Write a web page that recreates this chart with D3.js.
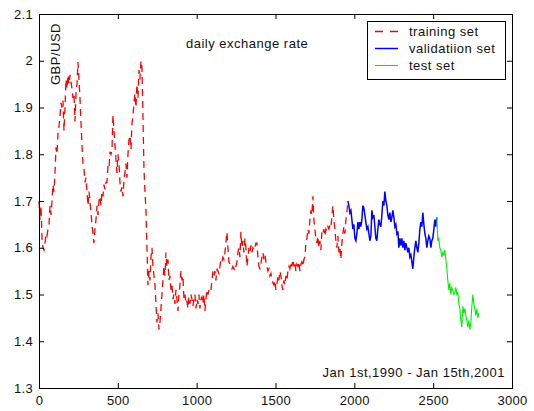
<!DOCTYPE html>
<html>
<head>
<meta charset="utf-8">
<script src="https://cdn.jsdelivr.net/npm/d3@7"></script>
<style>
  body { margin: 0; background: #fff; }
  svg text { font-family: Arial, "Liberation Sans", sans-serif; fill: #111; }
  .lbl { font-size: 13px; letter-spacing: 0.5px; }
</style>
</head>
<body>
<svg id="chart"></svg>
<script>
// GBP/USD daily rate (one reading per ~6.34 trading days)
let sampleStep = 6.34

let trainStart = 0
let trainRate = [
  1.70, 1.66, 1.69, 1.62, 1.60, 1.595, 1.61, 1.63, 1.625, 1.64, 1.65, 1.69, 1.67, 1.70, 1.735, 1.72, 1.76, 1.815, 1.80, 1.845,
  1.86, 1.88, 1.91, 1.90, 1.915, 1.85, 1.90, 1.96, 1.94, 1.97, 1.95, 1.97, 1.955, 1.94, 1.92, 1.93, 1.87, 1.93, 1.95, 1.997,
  1.96, 1.92, 1.87, 1.82, 1.78, 1.77, 1.74, 1.75, 1.72, 1.69, 1.72, 1.70, 1.675, 1.65, 1.63, 1.61, 1.64, 1.66, 1.69, 1.67,
  1.70, 1.71, 1.69, 1.72, 1.71, 1.735, 1.725, 1.74, 1.74, 1.775, 1.77, 1.805, 1.80, 1.81, 1.884, 1.85, 1.82, 1.79, 1.76, 1.80,
  1.78, 1.74, 1.72, 1.73, 1.71, 1.745, 1.76, 1.78, 1.75, 1.80, 1.83, 1.84, 1.81, 1.866, 1.88, 1.91, 1.93, 1.90, 1.95, 1.92,
  1.98, 1.96, 2.00, 1.985, 1.88, 1.77, 1.72, 1.68, 1.60, 1.52, 1.55, 1.53, 1.58, 1.60, 1.56, 1.54, 1.52, 1.48, 1.44, 1.46,
  1.425, 1.44, 1.47, 1.50, 1.53, 1.56, 1.54, 1.59, 1.56, 1.575, 1.53, 1.54, 1.51, 1.52, 1.49, 1.50, 1.48, 1.51, 1.49, 1.465,
  1.50, 1.52, 1.55, 1.53, 1.54, 1.49, 1.50, 1.48, 1.485, 1.47, 1.495, 1.48, 1.50, 1.49, 1.475, 1.49, 1.50, 1.47, 1.49, 1.48,
  1.50, 1.47, 1.49, 1.495, 1.48, 1.50, 1.465, 1.49, 1.51, 1.50, 1.51, 1.505, 1.51, 1.53, 1.55, 1.54, 1.55, 1.53, 1.555, 1.55,
  1.545, 1.56, 1.575, 1.57, 1.58, 1.575, 1.59, 1.61, 1.634, 1.60, 1.57, 1.565, 1.56, 1.555, 1.56, 1.555, 1.55, 1.56, 1.57, 1.59,
  1.60, 1.58, 1.634, 1.60, 1.615, 1.59, 1.62, 1.60, 1.56, 1.58, 1.60, 1.59, 1.605, 1.59, 1.60, 1.595, 1.60, 1.61, 1.61, 1.58,
  1.56, 1.555, 1.565, 1.58, 1.59, 1.575, 1.585, 1.57, 1.56, 1.55, 1.555, 1.54, 1.545, 1.53, 1.525, 1.52, 1.53, 1.51, 1.52, 1.54,
  1.53, 1.55, 1.54, 1.52, 1.51, 1.53, 1.52, 1.54, 1.53, 1.55, 1.56, 1.555, 1.57, 1.56, 1.575, 1.56, 1.57, 1.55, 1.565, 1.56,
  1.57, 1.55, 1.565, 1.57, 1.56, 1.575, 1.58, 1.61, 1.62, 1.64, 1.63, 1.66, 1.68, 1.67, 1.71, 1.66, 1.64, 1.62, 1.61, 1.625,
  1.60, 1.615, 1.595, 1.635, 1.63, 1.64, 1.625, 1.64, 1.635, 1.645, 1.64, 1.65, 1.645, 1.665, 1.69, 1.66, 1.64, 1.615, 1.60, 1.625,
  1.59, 1.60, 1.575, 1.61, 1.63, 1.645, 1.63, 1.66, 1.675, 1.70
]

let validStart = trainStart + (trainRate.length - 1) * sampleStep
let validRate = [
  1.70, 1.69, 1.675, 1.68, 1.66, 1.64, 1.65, 1.62, 1.615, 1.63, 1.655, 1.64, 1.655, 1.645, 1.66, 1.69, 1.685, 1.67, 1.655, 1.64,
  1.645, 1.63, 1.615, 1.625, 1.68, 1.665, 1.67, 1.645, 1.62, 1.615, 1.64, 1.66, 1.65, 1.645, 1.67, 1.70, 1.69, 1.72, 1.70, 1.69,
  1.67, 1.66, 1.675, 1.655, 1.665, 1.68, 1.665, 1.645, 1.65, 1.63, 1.635, 1.60, 1.62, 1.605, 1.62, 1.60, 1.615, 1.595, 1.61, 1.60,
  1.59, 1.60, 1.58, 1.585, 1.57, 1.555, 1.58, 1.60, 1.615, 1.60, 1.59, 1.61, 1.64, 1.655, 1.645, 1.675, 1.65, 1.63, 1.62, 1.60,
  1.615, 1.625, 1.62, 1.60, 1.615, 1.62, 1.64, 1.66, 1.645, 1.665
]

let testStart = validStart + (validRate.length - 1) * sampleStep
let testRate = [
  1.665, 1.615, 1.62, 1.60, 1.595, 1.58, 1.59, 1.585, 1.595, 1.575, 1.555, 1.53, 1.51, 1.525, 1.50, 1.515, 1.51, 1.50, 1.505, 1.515,
  1.50, 1.505, 1.48, 1.47, 1.445, 1.43, 1.475, 1.46, 1.47, 1.455, 1.445, 1.43, 1.445, 1.425, 1.44, 1.475, 1.50, 1.48, 1.47, 1.455,
  1.47, 1.45, 1.46
]

let xTicks = [0, 500, 1000, 1500, 2000, 2500, 3000]
let yTicks = [1.3, 1.4, 1.5, 1.6, 1.7, 1.8, 1.9, 2.0, 2.1]

let legendNames = ['training set', 'validatiion set', 'test set']

let width = 534
let height = 411
let padL = 39, padR = 512, padT = 14, padB = 388

let svg = d3.select('#chart')
            .attr('width', width)
            .attr('height', height)

let xScale = d3.scaleLinear().domain([0, 3000]).range([padL, padR])
let yScale = d3.scaleLinear().domain([1.3, 2.1]).range([padB, padT])

let toPoints = (start, rates) => rates.map((r, i) => [start + i * sampleStep, r])

let line = d3.line()
             .x(d => xScale(d[0]))
             .y(d => yScale(d[1]))

let series = [
  { name: legendNames[0], pts: toPoints(trainStart, trainRate), color: '#ff0000', dash: '7,5', legDash: '8,7', w: 1.3 },
  { name: legendNames[1], pts: toPoints(validStart, validRate), color: '#0000ff', dash: null, legDash: null, w: 1.5 },
  { name: legendNames[2], pts: toPoints(testStart, testRate), color: '#00ee00', dash: null, legDash: null, w: 1.1 }
]

svg.selectAll('path.series')
   .data(series)
   .enter()
   .append('path')
   .attr('class', 'series')
   .attr('d', d => line(d.pts))
   .attr('fill', 'none')
   .attr('stroke', d => d.color)
   .attr('stroke-width', d => d.w)
   .attr('stroke-dasharray', d => d.dash)

// axes, ticks pointing inward
let fmtY = d => d == 2 ? '2' : d3.format('.1f')(d)

let xAxis = d3.axisBottom(xScale).tickValues(xTicks).tickSize(-5).tickPadding(8).tickFormat(d3.format('d'))
let yAxis = d3.axisLeft(yScale).tickValues(yTicks).tickSize(-5).tickPadding(6).tickFormat(fmtY)
let xTop = d3.axisTop(xScale).tickValues(xTicks).tickSize(-5).tickFormat('')
let yRight = d3.axisRight(yScale).tickValues(yTicks).tickSize(-5).tickFormat('')

let styleAxis = g => {
  g.select('.domain').remove()
  g.selectAll('line').attr('stroke', '#000')
  g.selectAll('text').style('font-size', '13px').style('letter-spacing', '0.3px').attr('fill', '#111')
}

svg.append('g').attr('transform', 'translate(0,' + padB + ')').call(xAxis).call(styleAxis)
svg.append('g').attr('transform', 'translate(' + padL + ',0)').call(yAxis).call(styleAxis)
svg.append('g').attr('transform', 'translate(0,' + padT + ')').call(xTop).call(styleAxis)
svg.append('g').attr('transform', 'translate(' + padR + ',0)').call(yRight).call(styleAxis)

svg.append('rect')
   .attr('x', padL + 0.5).attr('y', padT + 0.5)
   .attr('width', padR - padL).attr('height', padB - padT)
   .attr('fill', 'none').attr('stroke', '#000').attr('stroke-width', 1)

// texts
svg.append('text')
   .attr('class', 'lbl')
   .attr('x', 186).attr('y', 47.5)
   .text('daily exchange rate')

svg.append('text')
   .attr('class', 'lbl')
   .attr('transform', 'translate(60,23) rotate(-90)')
   .attr('text-anchor', 'end')
   .text('GBP/USD')

svg.append('text')
   .attr('class', 'lbl')
   .attr('x', 505).attr('y', 376.5)
   .attr('text-anchor', 'end')
   .text('Jan 1st,1990 - Jan 15th,2001')

// legend
let legend = svg.append('g')
legend.append('rect')
      .attr('x', 367.5).attr('y', 21.5)
      .attr('width', 138).attr('height', 58)
      .attr('fill', '#fff').attr('stroke', '#000')

let rows = legend.selectAll('g.row')
                 .data(series)
                 .enter()
                 .append('g')
                 .attr('class', 'row')
                 .attr('transform', (d, i) => 'translate(0,' + (31.5 + i * 17) + ')')

rows.append('line')
    .attr('x1', 375).attr('x2', 398)
    .attr('stroke', d => d.color)
    .attr('stroke-width', d => d.w)
    .attr('stroke-dasharray', d => d.legDash)

rows.append('text')
    .attr('class', 'lbl')
    .attr('x', 409).attr('y', 4.5)
    .text(d => d.name)
</script>
</body>
</html>
